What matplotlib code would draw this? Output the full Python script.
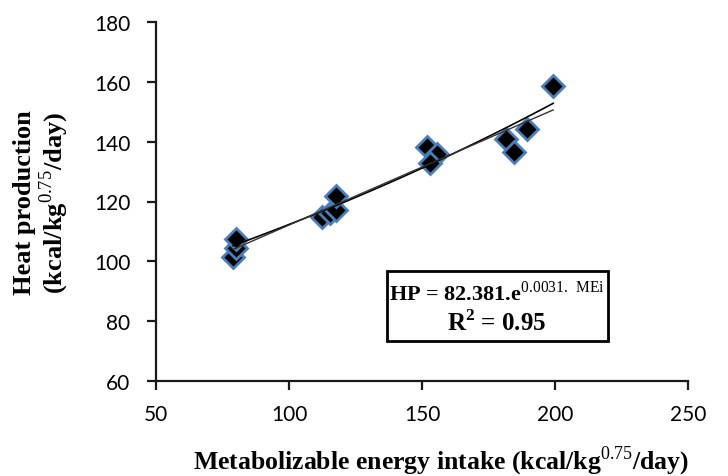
import numpy as np
import matplotlib
matplotlib.use("Agg")
import matplotlib.pyplot as plt
from matplotlib.patches import Rectangle

# valeurs
me_intake = [79.0, 80.0, 80.0, 112.5, 115.5, 117.5, 117.5, 152.0, 155.5, 153.0, 181.5, 184.5, 189.5, 199.3]
heat_prod = [101.5, 104.6, 107.4, 114.8, 116.0, 117.0, 121.9, 138.1, 135.9, 133.0, 140.9, 136.4, 144.2, 158.5]
coef_a = 82.381
coef_b = 0.0031

x_ticks = [50, 100, 150, 200, 250]
y_ticks = [60, 80, 100, 120, 140, 160, 180]

plt.rcParams['mathtext.fontset'] = 'custom'
plt.rcParams['mathtext.rm'] = 'Liberation Serif'
plt.rcParams['mathtext.bf'] = 'Liberation Serif:bold'

fig = plt.figure(figsize=(7.28, 4.77), dpi=100)
ax = fig.add_axes([156/728, 1-382/477, (688-156)/728, (382-23)/477])

ax.plot(me_intake, heat_prod, linestyle='none', marker='D', markersize=11,
        markerfacecolor='black', markeredgecolor='#4a7ebb', markeredgewidth=2, zorder=2)

# courbes de tendance (exponentielle + linéaire)
xs = np.linspace(min(me_intake), max(me_intake), 100)
ax.plot(xs, coef_a*np.exp(coef_b*xs), color='black', lw=1.2, zorder=3)
p = np.polyfit(me_intake, heat_prod, 1)
ax.plot(xs, np.polyval(p, xs), color='#333333', lw=1.0, zorder=3)

ax.set_xlim(50, 250)
ax.set_ylim(60, 180)
ax.set_xticks(x_ticks)
ax.set_yticks(y_ticks)
for s in ['top', 'right']:
    ax.spines[s].set_visible(False)
for s in ['left', 'bottom']:
    ax.spines[s].set_linewidth(1.6)
    ax.spines[s].set_color('#1a1a1a')
ax.tick_params(axis='both', direction='out', length=6.5, width=1.6, color='#1a1a1a')
ax.tick_params(axis='y', pad=12)
ax.tick_params(axis='x', pad=10)
for lab in ax.get_xticklabels() + ax.get_yticklabels():
    lab.set_family('Lato')
    lab.set_fontsize(15)

ax.set_xlabel(r'Metabolizable energy intake (kcal/kg$^{\mathrm{0.75}}$/day)',
              family='Liberation Serif', fontweight='bold', fontsize=18.5)
ax.xaxis.set_label_coords(0.536, -0.175)
ax.set_ylabel('Heat production\n' + r'(kcal/kg$^{\mathrm{0.75}}$/day)',
              family='Liberation Serif', fontweight='bold', fontsize=19, linespacing=1.05)
ax.yaxis.set_label_coords(-0.16, 0.5)

# encadré de l'équation
fig.patches.append(Rectangle((387/728, 1-342/477), 221/728, 70/477, transform=fig.transFigure,
                             facecolor='white', edgecolor='black', lw=2, zorder=5))
fig.text(497/728, 1-293/477, r'HP = 82.381.e$^{\mathrm{0.0031.\ MEi}}$', family='Liberation Serif',
         fontweight='bold', ha='center', va='center', fontsize=16, zorder=6)
fig.text(497/728, 1-323/477, r'R$^{\mathbf{2}}$ = 0.95', family='Liberation Serif',
         fontweight='bold', ha='center', va='center', fontsize=18, zorder=6)

fig.savefig('out.png', dpi=100)
